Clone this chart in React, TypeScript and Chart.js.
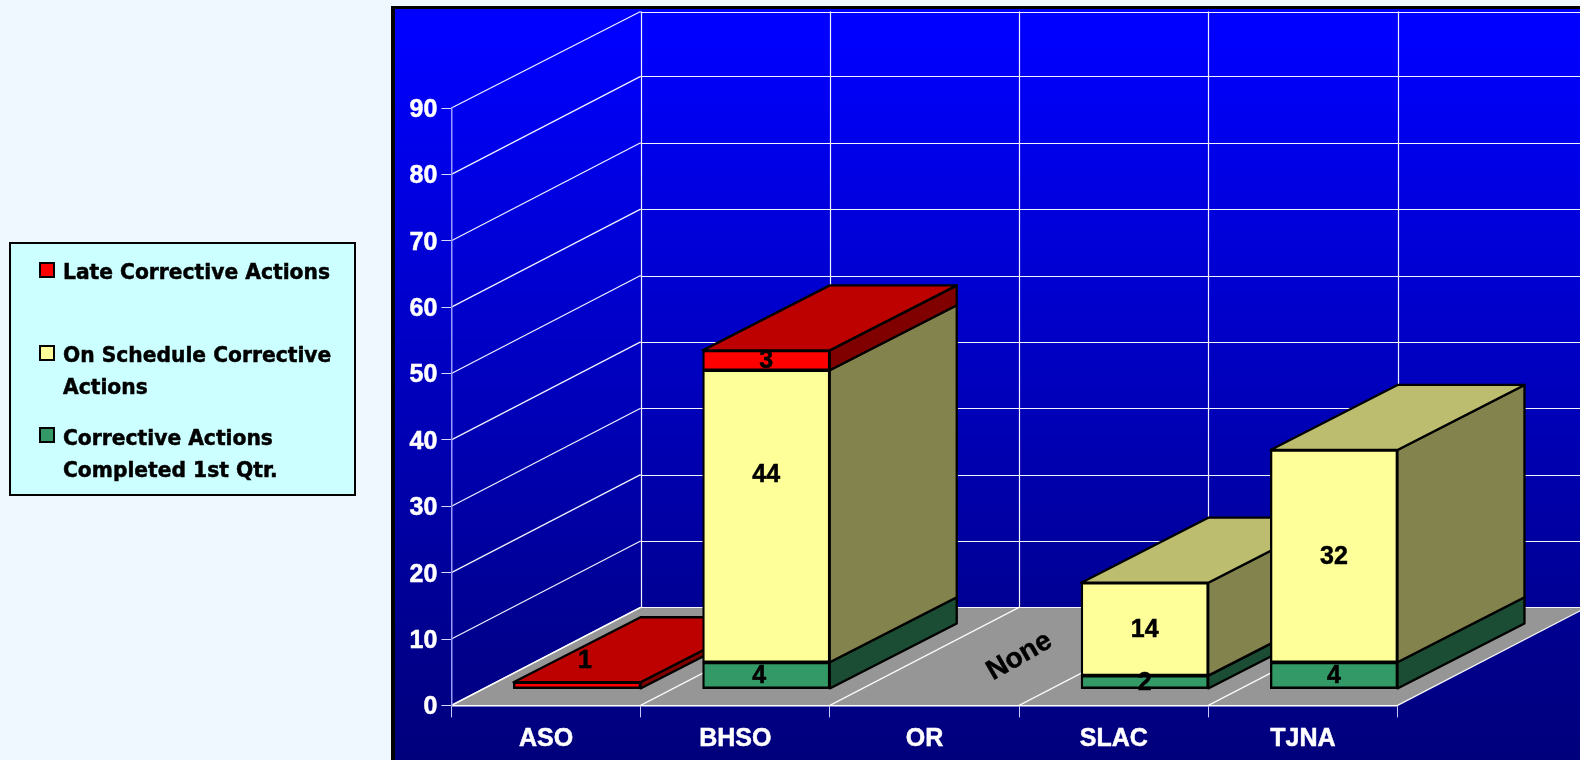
import React, { useEffect, useRef } from "react";
import { Chart, registerables } from "chart.js";

Chart.register(...registerables);

const categories = ["ASO", "BHSO", "OR", "SLAC", "TJNA"];
const completedActions = [null, 4, null, 2, 4];
const onScheduleActions = [null, 44, null, 14, 32];
const lateActions = [1, 3, null, null, null];
const noDataLabels = [{ category: "OR", text: "None" }];

const legendLines = {
  "Late Corrective Actions": ["Late Corrective Actions"],
  "On Schedule Corrective Actions": ["On Schedule Corrective", "Actions"],
  "Corrective Actions Completed 1st Qtr.": ["Corrective Actions", "Completed 1st Qtr."],
};

const FONT = "'Liberation Sans', Arial, sans-serif";
const LEGEND_FONT = "'DejaVu Sans', Verdana, sans-serif";
const WALL = { dx: 189.2, dy: 98 };
const WALL_TOP = 11.5;
const BAR_SHIFT = { dx: 31, dy: 16.5 };
const BAR_DEPTH = { dx: 127, dy: 65 };
const SHADES = {
  late: { top: "#bd0000", side: "#800000" },
  schedule: { top: "#bdbd70", side: "#83834e" },
  completed: { top: "#267350", side: "#1a4d33" },
};
// Pixel nudges for value labels that do not sit in the middle of their bar face: [dataset, category, dx, dy]
const LABEL_NUDGES = [
  [2, 0, 8, -25],
  [0, 1, -7, 0],
  [1, 1, 0, -42],
];

const scene3d = {
  id: "scene3d",
  afterDatasetsUpdate(chart: any) {
    chart.data.datasets.forEach((_: any, i: number) => {
      chart.getDatasetMeta(i).data.forEach((el: any) => {
        el.x += BAR_SHIFT.dx;
        el.y -= BAR_SHIFT.dy;
        el.base -= BAR_SHIFT.dy;
      });
    });
  },
  beforeDraw(chart: any) {
    const { ctx, width, height } = chart;
    const xs = chart.scales.x;
    const ys = chart.scales.y;
    ctx.save();
    ctx.fillStyle = "#f0f8ff";
    ctx.fillRect(0, 0, width, height);

    const PX = 391, PY = 6, B = 4;
    ctx.fillStyle = "#000";
    ctx.fillRect(PX, PY, width - PX, height - PY);
    const g = ctx.createLinearGradient(0, PY + B, 0, height);
    g.addColorStop(0.03, "#0000ff");
    g.addColorStop(0.85, "#00008c");
    g.addColorStop(1, "#00007c");
    ctx.fillStyle = g;
    ctx.fillRect(PX + B, PY + B - 1, width - PX - B, height - PY - B + 1);

    const slot = (xs.right - xs.left) / categories.length;
    const y0 = ys.getPixelForValue(0);
    const bx = xs.left + WALL.dx;
    const by = y0 - WALL.dy;

    // floor
    ctx.fillStyle = "#969696";
    ctx.beginPath();
    ctx.moveTo(xs.left, y0);
    ctx.lineTo(xs.right, y0);
    ctx.lineTo(xs.right + WALL.dx, by);
    ctx.lineTo(bx, by);
    ctx.closePath();
    ctx.fill();

    ctx.strokeStyle = "rgba(255,255,255,0.95)";
    ctx.lineWidth = 1.2;
    const line = (a: number, b: number, c: number, d: number) => {
      ctx.beginPath();
      ctx.moveTo(a, b);
      ctx.lineTo(c, d);
      ctx.stroke();
    };
    ys.ticks.forEach((t: any) => {
      const y = ys.getPixelForValue(t.value);
      const backY = Math.max(y - WALL.dy, WALL_TOP);
      line(xs.left, y, bx, backY);
      line(bx, Math.round(backY) + 0.5, width, Math.round(backY) + 0.5);
    });
    for (let i = 0; i <= categories.length; i++) {
      const x = xs.left + i * slot;
      line(x, y0, x + WALL.dx, by);
      line(Math.round(x + WALL.dx) + 0.5, WALL_TOP, Math.round(x + WALL.dx) + 0.5, by);
    }
    ctx.restore();
  },
  beforeDatasetsDraw(chart: any) {
    const { ctx } = chart;
    const n = categories.length;
    const keys = ["completed", "schedule", "late"];
    ctx.save();
    ctx.strokeStyle = "#000";
    ctx.lineWidth = 2.3;
    ctx.lineJoin = "round";
    const { dx, dy } = BAR_DEPTH;
    for (let c = 0; c < n; c++) {
      let topEl: any = null;
      let topKey = "";
      chart.data.datasets.forEach((ds: any, d: number) => {
        if (ds.data[c] == null) return;
        const el = chart.getDatasetMeta(d).data[c];
        const r = el.x + el.width / 2;
        ctx.fillStyle = (SHADES as any)[keys[d]].side;
        ctx.beginPath();
        ctx.moveTo(r, el.base);
        ctx.lineTo(r + dx, el.base - dy);
        ctx.lineTo(r + dx, el.y - dy);
        ctx.lineTo(r, el.y);
        ctx.closePath();
        ctx.fill();
        ctx.stroke();
        topEl = el;
        topKey = keys[d];
      });
      if (topEl) {
        const l = topEl.x - topEl.width / 2;
        const r = topEl.x + topEl.width / 2;
        ctx.fillStyle = (SHADES as any)[topKey].top;
        ctx.beginPath();
        ctx.moveTo(l, topEl.y);
        ctx.lineTo(r, topEl.y);
        ctx.lineTo(r + dx, topEl.y - dy);
        ctx.lineTo(l + dx, topEl.y - dy);
        ctx.closePath();
        ctx.fill();
        ctx.stroke();
      }
    }
    ctx.restore();
  },
  afterDatasetsDraw(chart: any) {
    const { ctx } = chart;
    const xs = chart.scales.x;
    const ys = chart.scales.y;
    ctx.save();
    ctx.fillStyle = "#000";
    ctx.strokeStyle = "#000";
    ctx.lineWidth = 0.5;
    ctx.font = `bold 25px ${FONT}`;
    ctx.textAlign = "center";
    ctx.textBaseline = "middle";
    chart.data.datasets.forEach((ds: any, d: number) => {
      ds.data.forEach((v: any, c: number) => {
        if (v == null) return;
        const el = chart.getDatasetMeta(d).data[c];
        const nudge = LABEL_NUDGES.find((m) => m[0] === d && m[1] === c);
        const x = el.x + (nudge ? nudge[2] : 0);
        const y = (el.y + el.base) / 2 + (nudge ? nudge[3] : 0);
        ctx.fillText(String(v), x, y + 1);
        ctx.strokeText(String(v), x, y + 1);
      });
    });
    ctx.font = `bold 28px ${FONT}`;
    noDataLabels.forEach((item) => {
      ctx.save();
      ctx.translate(xs.getPixelForValue(categories.indexOf(item.category)) + 95, ys.getPixelForValue(0) - 49);
      ctx.rotate((-30 * Math.PI) / 180);
      ctx.fillText(item.text, 0, 0);
      ctx.strokeText(item.text, 0, 0);
      ctx.restore();
    });
    ctx.restore();
  },
  afterDraw(chart: any) {
    const { ctx } = chart;
    ctx.save();
    // legend panel
    ctx.fillStyle = "#ccffff";
    ctx.strokeStyle = "#000";
    ctx.lineWidth = 2;
    ctx.fillRect(10, 243, 345, 252);
    ctx.strokeRect(10, 243, 345, 252);
    const rows = [
      { ds: 2, swatch: 262, baseline: 279 },
      { ds: 1, swatch: 345, baseline: 362 },
      { ds: 0, swatch: 427, baseline: 445 },
    ];
    ctx.font = `bold 21px ${LEGEND_FONT}`;
    ctx.textAlign = "left";
    ctx.textBaseline = "alphabetic";
    rows.forEach((row) => {
      const ds = chart.data.datasets[row.ds];
      ctx.fillStyle = ds.backgroundColor;
      ctx.lineWidth = 2;
      ctx.fillRect(40, row.swatch + 1, 14, 14);
      ctx.strokeRect(40, row.swatch + 1, 14, 14);
      ctx.fillStyle = "#000";
      ctx.lineWidth = 0.5;
      (legendLines as any)[ds.label].forEach((text: string, i: number) => {
        ctx.save();
        ctx.translate(63, row.baseline + i * 32);
        ctx.scale(0.965, 1);
        ctx.fillText(text, 0, 0);
        ctx.strokeText(text, 0, 0);
        ctx.restore();
      });
    });
    ctx.restore();
  },
};

export default function App() {
  const ref = useRef<HTMLCanvasElement>(null);
  useEffect(() => {
    document.body.style.margin = "0";
    document.body.style.background = "#f0f8ff";
    const bar = {
      borderColor: "#000",
      borderWidth: 2.3,
      borderSkipped: false,
      inflateAmount: 0.5,
      barPercentage: 1,
      categoryPercentage: 0.671,
    };
    const tickFont = { family: FONT, size: 25, weight: "bold" as const };
    const chart = new Chart(ref.current!, {
      type: "bar",
      data: {
        labels: categories,
        datasets: [
          { label: "Corrective Actions Completed 1st Qtr.", data: completedActions, backgroundColor: "#339966", ...bar },
          { label: "On Schedule Corrective Actions", data: onScheduleActions, backgroundColor: "#ffff99", ...bar },
          { label: "Late Corrective Actions", data: lateActions, backgroundColor: "#ff0000", ...bar },
        ],
      },
      options: {
        responsive: false,
        animation: false,
        layout: { padding: { left: 391, top: 108, right: 182.4, bottom: 0 } },
        plugins: { legend: { display: false }, tooltip: { enabled: false } },
        scales: {
          x: {
            stacked: true,
            afterFit: (s: any) => { s.height = 54.6; },
            grid: { drawOnChartArea: false, drawTicks: true, tickLength: 12, color: "#c8c8ff", lineWidth: 1 },
            border: { display: true, color: "#ffffff", width: 1.5 },
            ticks: { color: "#ffffff", font: tickFont, padding: 7, maxRotation: 0, autoSkip: false, textStrokeColor: "#ffffff", textStrokeWidth: 0.5 },
          },
          y: {
            stacked: true,
            min: 0,
            max: 90,
            afterFit: (s: any) => { s.width = 60.4; },
            grid: { drawOnChartArea: false, drawTicks: true, tickLength: 10, color: "#d8d8ff", lineWidth: 1 },
            border: { display: true, color: "#9a9aff", width: 1.5 },
            ticks: { color: "#ffffff", font: tickFont, padding: 4, stepSize: 10, labelOffset: 2, textStrokeColor: "#ffffff", textStrokeWidth: 0.5 },
          },
        },
      },
      plugins: [scene3d],
    } as any);
    return () => chart.destroy();
  }, []);
  return (
    <canvas
      ref={ref}
      width={1580}
      height={760}
      style={{ position: "absolute", left: 0, top: 0, display: "block" }}
    />
  );
}
